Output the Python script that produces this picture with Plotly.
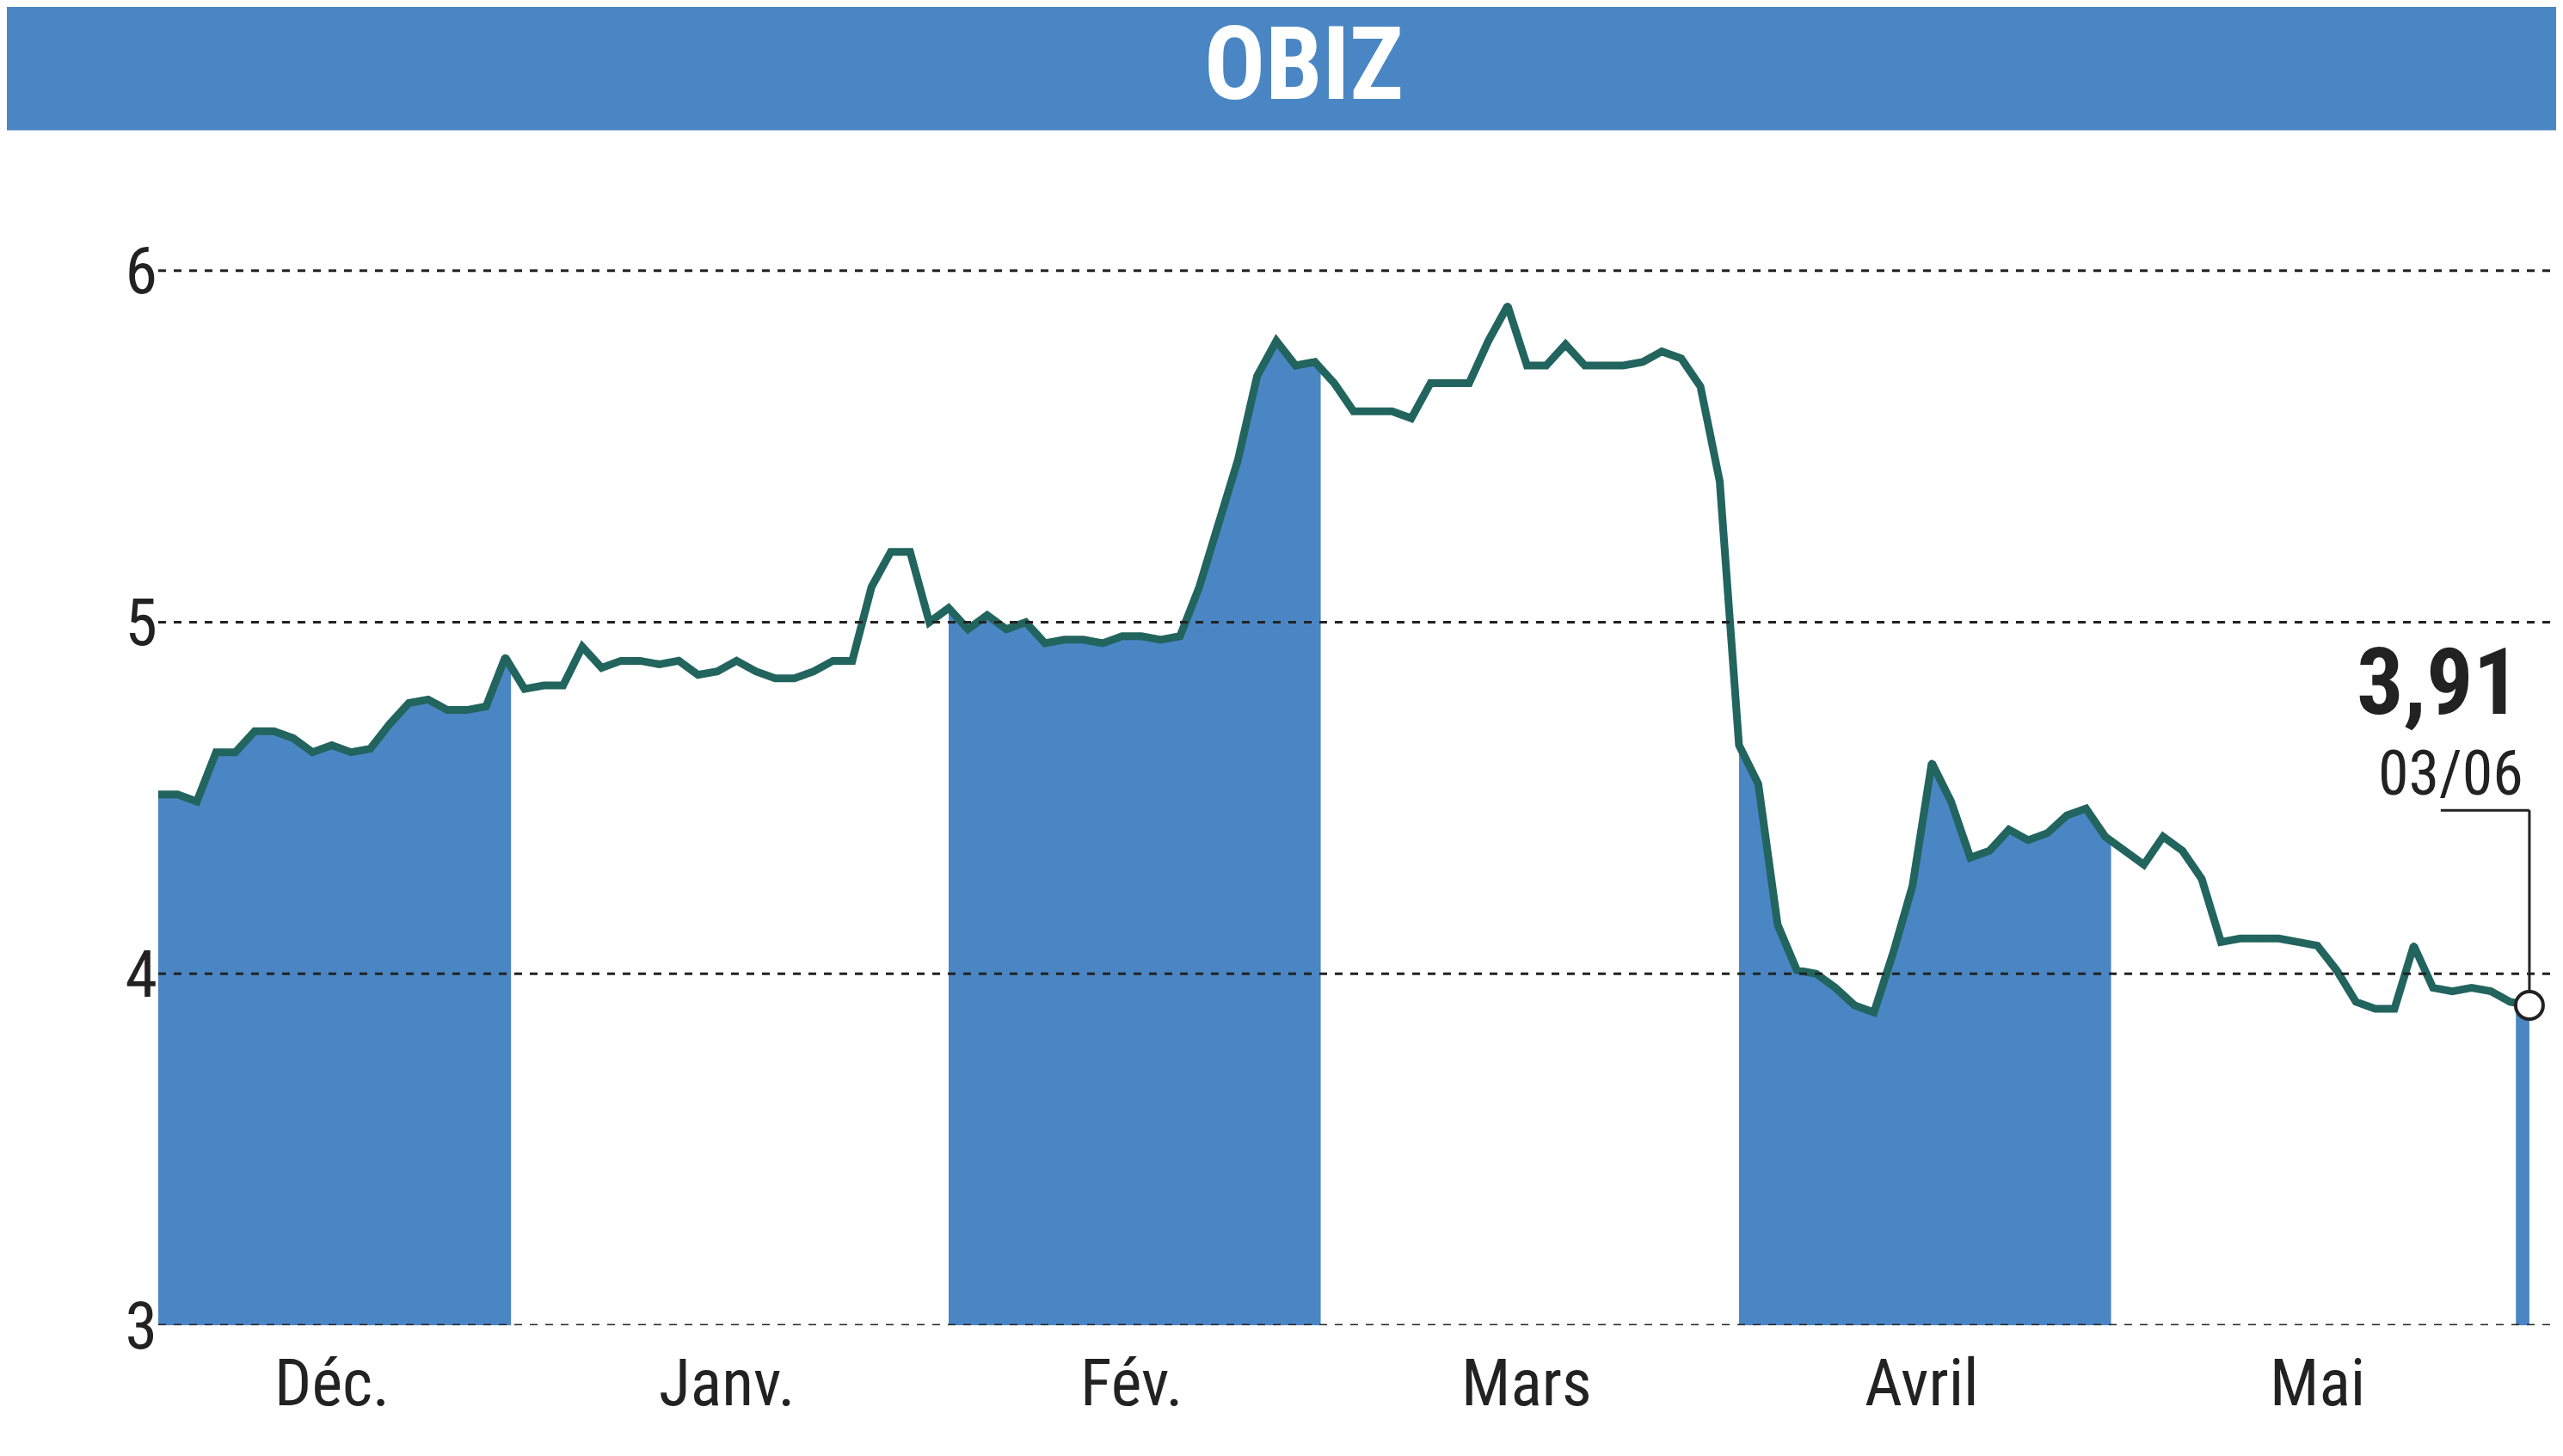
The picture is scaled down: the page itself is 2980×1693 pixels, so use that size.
import plotly.graph_objects as go

months = ["Déc.", "Janv.", "Fév.", "Mars", "Avril", "Mai", "Juin"]
dec = [4.51,4.51,4.49,4.63,4.63,4.69,4.69,4.67,4.63,4.65,4.63,4.64,4.71,4.77,4.78,4.75,4.75,4.76,4.90]
janv = [4.81,4.82,4.82,4.93,4.87,4.89,4.89,4.88,4.89,4.85,4.86,4.89,4.86,4.84,4.84,4.86,4.89,4.89,5.10,5.20,5.20,5.00]
fev = [5.04,4.98,5.02,4.98,5.00,4.94,4.95,4.95,4.94,4.96,4.96,4.95,4.96,5.10,5.28,5.46,5.70,5.80,5.73,5.74]
mars = [5.68,5.60,5.60,5.60,5.58,5.68,5.68,5.68,5.80,5.90,5.73,5.73,5.79,5.73,5.73,5.73,5.74,5.77,5.75,5.67,5.40]
avril = [4.65,4.54,4.14,4.01,4.00,3.96,3.91,3.89,4.06,4.25,4.60,4.49,4.33,4.35,4.41,4.38,4.40,4.45,4.47,4.39]
mai = [4.35,4.31,4.39,4.35,4.27,4.09,4.10,4.10,4.10,4.09,4.08,4.01,3.92,3.90,3.90,4.08,3.96,3.95,3.96,3.95,3.92]
juin = [3.91]
groups = [dec, janv, fev, mars, avril, mai, juin]
yticks = [3, 4, 5, 6]
last_value, last_date = "3,91", "03/06"

values = [v for g in groups for v in g]
xs = list(range(len(values)))
BLUE = "#4a86c4"; LINE = "#22645e"
FONT = "Liberation Sans Narrow, Roboto Condensed, Arial Narrow, sans-serif"

fig = go.Figure()
start = 0
annots = []
for mi, g in enumerate(groups):
    end = start + len(g) - 1
    if mi % 2 == 0:
        fx = list(range(start, end + 1))
        fy = list(g)
        if end + 1 < len(values):
            fx.append(end + 0.3); fy.append(values[end] + 0.3 * (values[end + 1] - values[end]))
        elif mi == len(groups) - 1:
            fx = [start - 0.7, start]; fy = [values[start - 1] + 0.3 * (values[start] - values[start - 1]), values[start]]
        fig.add_trace(go.Scatter(x=[fx[0]] + fx + [fx[-1]], y=[3] + fy + [3], fill="toself",
                                 fillcolor=BLUE, line=dict(width=0), mode="lines", hoverinfo="skip"))
    if mi < len(groups) - 1:
        annots.append(dict(x=(start + end) / 2, y=0, yref="paper", yanchor="top", yshift=-20,
                           text=months[mi], showarrow=False, font=dict(size=76, color="#222", family=FONT)))
    start = end + 1

n = len(values) - 1
xmax = n + 2.1
for t in yticks:
    fig.add_shape(type="line", x0=0, x1=xmax, y0=t, y1=t, layer="above",
                  line=dict(color="#222", width=3, dash="dash"))

fig.add_trace(go.Scatter(x=xs, y=values, mode="lines+markers", line=dict(color=LINE, width=9),
                         marker=dict(size=7, color=LINE)))
fig.add_shape(type="line", x0=n, x1=n, y0=values[-1] + 0.04, y1=4.465, line=dict(color="#222", width=3))
fig.add_shape(type="line", x0=n - 4.6, x1=n, y0=4.465, y1=4.465, line=dict(color="#222", width=3))
fig.add_trace(go.Scatter(x=[xs[-1]], y=[values[-1]], mode="markers",
                         marker=dict(size=32, color="white", line=dict(color="#222", width=4))))
annots.append(dict(x=n - 0.4, y=4.83, text="<b>" + last_value + "</b>", showarrow=False, xanchor="right",
                   yanchor="middle", font=dict(size=108, color="#222", family=FONT)))
annots.append(dict(x=n - 0.2, y=4.57, text=last_date, showarrow=False, xanchor="right",
                   yanchor="middle", font=dict(size=72, color="#222", family=FONT)))
# header
fig.add_shape(type="rect", xref="paper", yref="paper", x0=-0.08, x1=1.01, y0=1.03, y1=1.2,
              fillcolor=BLUE, line=dict(width=0), layer="below")
annots.append(dict(x=0.5 - 0.025, xref="paper", y=1.087, yref="paper", yanchor="middle",
                   text="<b>OBIZ</b>", showarrow=False, font=dict(size=118, color="white", family=FONT)))

fig.update_layout(width=2980, height=1693, margin=dict(l=176, r=0, t=184, b=160),
                  plot_bgcolor="white", paper_bgcolor="white", showlegend=False, annotations=annots,
                  xaxis=dict(range=[0, xmax], showticklabels=False, showgrid=False, zeroline=False, automargin=False),
                  yaxis=dict(range=[3, 6.3], tickvals=yticks, showgrid=False, zeroline=False, ticks="",
                             automargin=False, tickfont=dict(size=76, color="#222", family=FONT)))
fig.write_html("out.html")
